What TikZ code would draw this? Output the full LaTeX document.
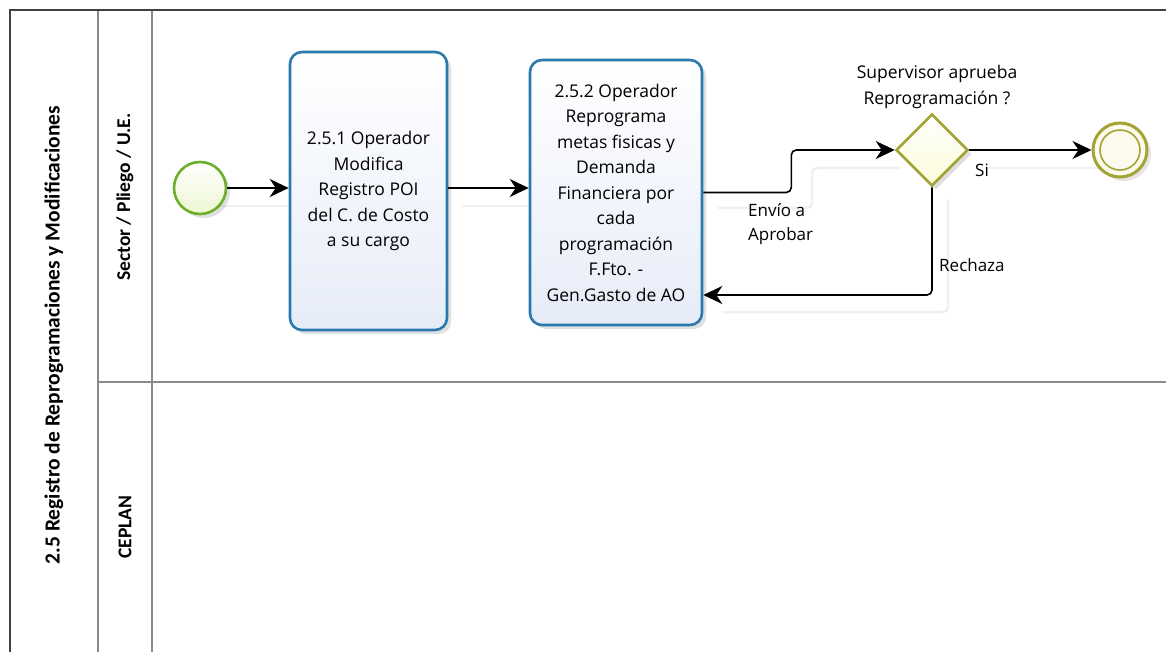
\documentclass[tikz,border=0pt]{standalone}
\usepackage{fontspec}
\setmainfont{Open Sans}
\newfontfamily\lanefont{Carlito}
\usetikzlibrary{arrows.meta,shadows,shapes.geometric,calc}
\definecolor{taskblue}{HTML}{2A79AE}
\definecolor{taskfill}{HTML}{E6ECF8}
\definecolor{startgreen}{HTML}{6BAF2C}
\definecolor{startfill}{HTML}{EDF7D2}
\definecolor{olive}{HTML}{A3A338}
\definecolor{gwfill}{HTML}{FBFBD8}
\definecolor{endfill}{HTML}{FBFAEC}
\definecolor{poolline}{HTML}{404040}
\definecolor{laneline}{HTML}{8A8A8A}
\tikzset{
  txt/.style={font=\fontsize{17.5}{25.5}\selectfont, align=center},
  poollabel/.style={font=\lanefont\bfseries\fontsize{21.5}{24}\selectfont, rotate=90},
  lanelabel/.style={font=\lanefont\bfseries\fontsize{19.5}{22}\selectfont, rotate=90},
  taskbox/.style={draw=taskblue, line width=2.6pt, rounded corners=12pt,
     top color=white, bottom color=taskfill, txt, inner sep=2pt,
     drop shadow={shadow xshift=4pt, shadow yshift=-4pt, fill=black, opacity=0.12}},
  startev/.style={circle, draw=startgreen, line width=2.6pt, inner sep=0pt,
     minimum size=52pt, top color=white, bottom color=startfill,
     drop shadow={shadow xshift=4pt, shadow yshift=-4pt, fill=black, opacity=0.12}},
  endev/.style={circle, draw=olive, line width=3pt, inner sep=0pt,
     minimum size=54pt, fill=endfill,
     drop shadow={shadow xshift=4pt, shadow yshift=-4pt, fill=black, opacity=0.10}},
  gateway/.style={diamond, aspect=1, draw=olive, line width=2.6pt, inner sep=0pt,
     minimum width=72pt, minimum height=72pt, top color=white, bottom color=gwfill,
     drop shadow={shadow xshift=4pt, shadow yshift=-4pt, fill=black, opacity=0.12}},
  flow/.style={draw=black, line width=1.6pt, rounded corners=5pt,
     arrows={-Stealth[length=19pt, width=18pt, inset=6pt]}},
  ghost/.style={draw=black!6, line width=2.5pt, rounded corners=5pt},
  flowlabel/.style={font=\fontsize{17}{24}\selectfont, align=left, inner sep=0pt}
}
\begin{document}
\begin{tikzpicture}[x=1pt,y=-1pt]
\useasboundingbox (0,0) rectangle (1166,652);
\fill[white] (0,0) rectangle (1166,652);

% pool and lanes
\draw[laneline, line width=1.6pt] (98,10) -- (98,652);
\draw[laneline, line width=1.6pt] (152,10) -- (152,652);
\draw[laneline, line width=1.6pt] (98,382) -- (1166,382);
\draw[poolline, line width=1.6pt] (10,652) -- (10,10) -- (1166,10);

\node[poollabel] (pool) at (54,335) {2.5 Registro de Reprogramaciones y Modificaciones};
\node[lanelabel] (lane1) at (125,197) {Sector / Pliego / U.E.};
\node[lanelabel] (lane2) at (125,527) {CEPLAN};

% connector shadows
\draw[ghost] (218,206) -- (300,206);
\draw[ghost] (462,206) -- (540,206);
\draw[ghost] (718,208) -- (812,208) -- (812,168) -- (900,168);
\draw[ghost] (985,168) -- (1100,168);
\draw[ghost] (948,200) -- (948,312) -- (722,312);

% shapes
\node[startev] (start) at (200,188) {};
\node[taskbox, minimum width=157pt, minimum height=278pt] (t1) at (368.5,191)
  {2.5.1 Operador\\Modifica\\Registro POI\\del C. de Costo\\a su cargo};
\node[taskbox, minimum width=172pt, minimum height=265pt] (t2) at (616,192.5)
  {2.5.2 Operador\\Reprograma\\metas fisicas y\\Demanda\\Financiera por\\cada\\programación\\F.Fto. -\\Gen.Gasto de AO};
\node[gateway] (gw) at (932,150) {};
\node[endev] (end) at (1120,150) {};
\draw[olive, line width=1.6pt] (end.center) circle (20pt);

\node[txt, inner sep=0pt] (gwlabel) at (937,87) {Supervisor aprueba\\Reprogramación ?};

% flows
\draw[flow] (start) -- (t1.west |- start);
\draw[flow] (t1.east |- start) -- (t2.west |- start);
\draw[flow] (t2.east) -- ([xshift=88pt]t2.east) |- (gw.west);
\draw[flow] (gw.east) -- (end);
\draw[flow] (gw.south) |- ([yshift=-102.5pt]t2.east);

\node[flowlabel, anchor=north west] (envio) at (748,203) {Envío a\\Aprobar};
\node[flowlabel, anchor=north west] (si) at (975,164) {Si};
\node[flowlabel, anchor=north west] (rech) at (939,258) {Rechaza};
\end{tikzpicture}
\end{document}
